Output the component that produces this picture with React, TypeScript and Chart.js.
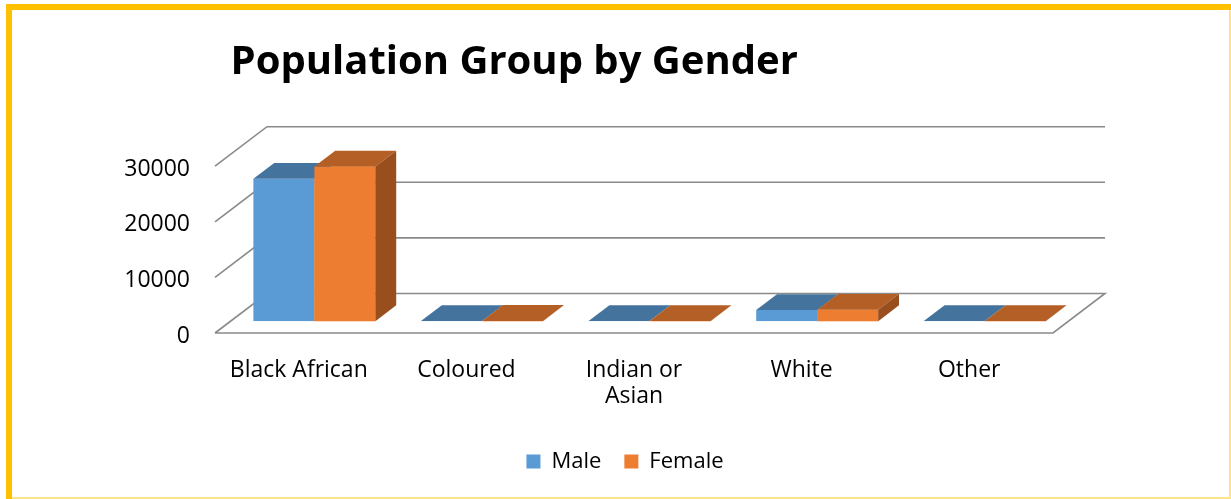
import React, { useEffect, useRef } from "react";
import { Chart, registerables } from "chart.js";

Chart.register(...registerables);

const categories: (string | string[])[] = ["Black African", "Coloured", ["Indian or", "Asian"], "White", "Other"];
const maleValues = [25600, 40, 30, 2000, 20];
const femaleValues = [27800, 45, 25, 2050, 20];
const yTicks = [0, 10000, 20000, 30000];

const FRONT_DEPTH = 0.3; // fraction of floor depth where bar front faces sit
const BAR_DEPTH = 0.4;
const DX = 52;
const DY = 39.5;

const colors = {
  male: { front: "#5B9BD5", top: "#44739E", side: "#3A6489" },
  female: { front: "#ED7D31", top: "#B45F25", side: "#984F1D" },
};

function drawFaces(ctx: any, meta: any, c: any, withSide: boolean) {
  const dx = BAR_DEPTH * DX;
  const dy = BAR_DEPTH * DY;
  meta.data.forEach((el: any) => {
    const { x, y, base, width } = el.getProps(["x", "y", "base", "width"], true);
    const l = x - width / 2;
    const r = x + width / 2;
    ctx.fillStyle = c.top;
    ctx.beginPath();
    ctx.moveTo(l, y);
    ctx.lineTo(r, y);
    ctx.lineTo(r + dx, y - dy);
    ctx.lineTo(l + dx, y - dy);
    ctx.closePath();
    ctx.fill();
    if (withSide) {
      ctx.fillStyle = c.side;
      ctx.beginPath();
      ctx.moveTo(r, y);
      ctx.lineTo(r + dx, y - dy);
      ctx.lineTo(r + dx, base - dy);
      ctx.lineTo(r, base);
      ctx.closePath();
      ctx.fill();
    }
  });
}

const threeD = {
  id: "threeD",
  beforeDraw(chart: any) {
    const { ctx, width, height } = chart;
    ctx.save();
    ctx.fillStyle = "#ffffff";
    ctx.fillRect(0, 0, width, height);
    ctx.fillStyle = "#FFC000";
    ctx.fillRect(6, 4, width - 6, 6);
    ctx.fillRect(6, 4, 6, height - 4);
    ctx.fillStyle = "#FFE38A";
    ctx.fillRect(width - 2, 10, 2, height - 10);
    ctx.fillRect(12, height - 2, width - 12, 2);
    ctx.restore();
  },
  beforeDatasetsDraw(chart: any) {
    const { ctx } = chart;
    const xs = chart.scales.x;
    const ys = chart.scales.y;
    const offX = FRONT_DEPTH * DX;
    const offY = FRONT_DEPTH * DY;
    const fl = xs.left - offX;
    const fr = xs.right - offX;
    ctx.save();
    ctx.strokeStyle = "#8a8a8a";
    ctx.lineWidth = 1.6;
    yTicks.forEach((v) => {
      const yf = ys.getPixelForValue(v) + offY;
      ctx.beginPath();
      ctx.moveTo(fl, yf);
      ctx.lineTo(fl + DX, yf - DY);
      ctx.lineTo(fr + DX, yf - DY);
      if (v === 0) {
        ctx.lineTo(fr, yf);
        ctx.lineTo(fl, yf);
      }
      ctx.stroke();
    });
    ctx.restore();
  },
  afterDatasetsDraw(chart: any) {
    const { ctx } = chart;
    const maleMeta = chart.getDatasetMeta(0);
    const femaleMeta = chart.getDatasetMeta(1);
    ctx.save();
    drawFaces(ctx, maleMeta, colors.male, false);
    // female front faces sit in front of male top faces: redraw them
    femaleMeta.data.forEach((el: any) => el.draw(ctx));
    drawFaces(ctx, femaleMeta, colors.female, true);
    ctx.restore();
  },
};

export default function App() {
  const ref = useRef<HTMLCanvasElement>(null);
  useEffect(() => {
    if (!ref.current) return;
    Chart.defaults.font.family = "'Open Sans', sans-serif";
    Chart.defaults.color = "#000000";
    const chart = new Chart(ref.current, {
      type: "bar",
      data: {
        labels: categories,
        datasets: [
          {
            label: "Male",
            data: maleValues,
            backgroundColor: colors.male.front,
            borderWidth: 0,
            categoryPercentage: 0.728,
            barPercentage: 1,
          },
          {
            label: "Female",
            data: femaleValues,
            backgroundColor: colors.female.front,
            borderWidth: 0,
            categoryPercentage: 0.728,
            barPercentage: 1,
          },
        ] as any,
      },
      options: {
        responsive: false,
        animation: false,
        layout: { padding: { left: 110, right: 91, top: 10, bottom: 16.5 } },
        scales: {
          x: {
            grid: { display: false, drawTicks: false },
            border: { display: false },
            ticks: {
              font: { size: 23, lineHeight: 26.5 / 23 },
              padding: 35.6,
              labelOffset: -FRONT_DEPTH * DX,
              maxRotation: 0,
              autoSkip: false,
              color: "#000",
            },
            afterFit: (s: any) => {
              s.height = 106.35;
            },
          },
          y: {
            min: 0,
            max: 30000,
            grid: { display: false, drawTicks: false },
            border: { display: false },
            afterBuildTicks: (s: any) => {
              s.ticks = yTicks.map((v) => ({ value: v }));
            },
            ticks: {
              font: { size: 23 },
              padding: 40.6,
              labelOffset: FRONT_DEPTH * DY + 3,
              color: "#000",
              callback: (v: any) => String(v),
            },
            afterFit: (s: any) => {
              s.width = 120.6;
            },
          },
          yRight: {
            position: "right",
            display: true,
            min: 0,
            max: 30000,
            grid: { display: false, drawTicks: false },
            border: { display: false },
            ticks: { display: false },
            afterFit: (s: any) => {
              s.width = 71.4;
            },
          },
        },
        plugins: {
          title: {
            display: true,
            text: "Population Group by Gender",
            align: "start",
            fullSize: false,
            color: "#000",
            font: { size: 40, weight: "bold", lineHeight: 1.2 },
            padding: { top: 28.2, bottom: 68.15 },
          },
          legend: {
            position: "bottom",
            labels: {
              boxWidth: 14,
              boxHeight: 14,
              padding: 23,
              font: { size: 22 },
              color: "#000",
            },
          },
          tooltip: { enabled: false },
        },
      } as any,
      plugins: [threeD],
    });
    return () => chart.destroy();
  }, []);
  return (
    <div style={{ position: "fixed", left: 0, top: 0, width: 1231, height: 499, background: "#fff" }}>
      <canvas ref={ref} width={1231} height={499} />
    </div>
  );
}
